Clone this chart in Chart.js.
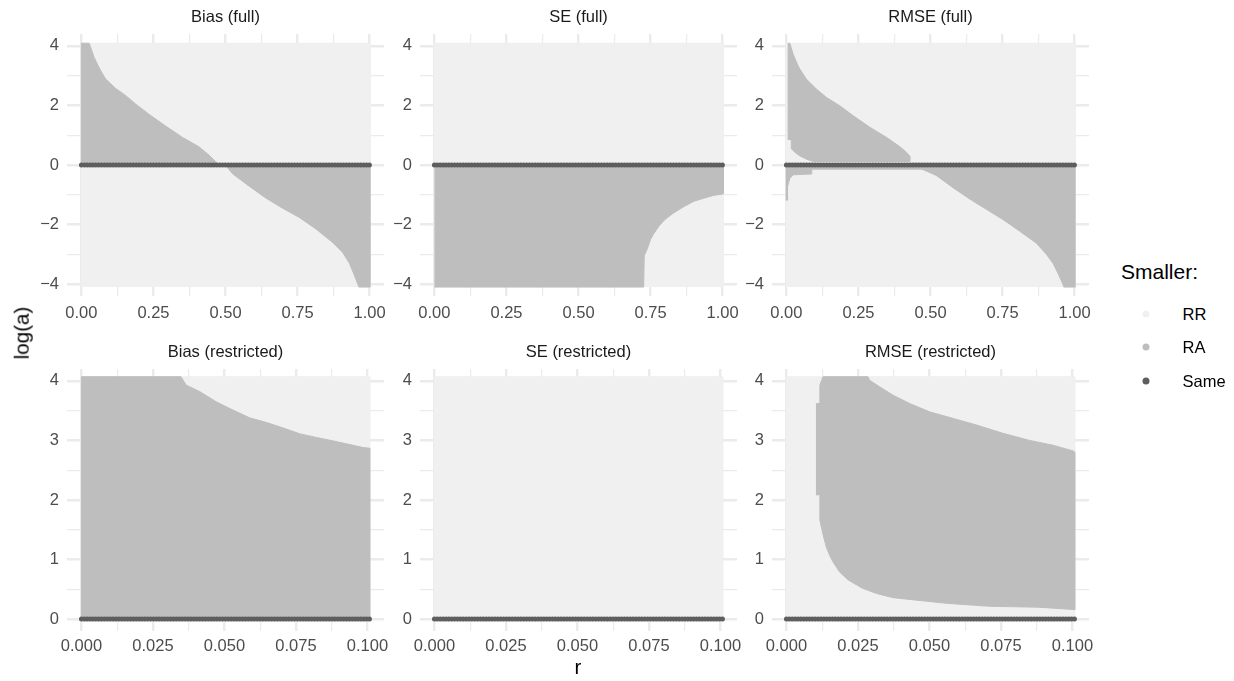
<!DOCTYPE html>
<html><head><meta charset="utf-8">
<script src="https://cdn.jsdelivr.net/npm/chart.js@4.4.1/dist/chart.umd.min.js"></script>
<style>
html,body{margin:0;padding:0;background:#fff;}
body{width:1234px;height:681px;overflow:hidden;position:relative;font-family:"Liberation Sans",Arial,Helvetica,sans-serif;}
canvas{position:absolute;}
.t{position:absolute;white-space:nowrap;line-height:1;}
.c{transform:translate(-50%,-50%);}
.l{transform:translate(0,-50%);}
.dot{position:absolute;width:7px;height:7px;border-radius:50%;transform:translate(-50%,-50%);}
</style></head><body>
<script>
// ---------------- data ----------------
const panelTitles = ['Bias (full)', 'SE (full)', 'RMSE (full)', 'Bias (restricted)', 'SE (restricted)', 'RMSE (restricted)'];
const xAxisTitle = 'r';
const yAxisTitle = 'log(a)';
const legendTitle = 'Smaller:';
const legendLabels = ['RR', 'RA', 'Same'];

// tick values / labels
const xTicksFull = [0, 0.25, 0.5, 0.75, 1];
const xTickLabelsFull = ['0.00', '0.25', '0.50', '0.75', '1.00'];
const xMinorFull = [0.125, 0.375, 0.625, 0.875];
const yTicksFull = [-4, -2, 0, 2, 4];
const yTickLabelsFull = ['\u22124', '\u22122', '0', '2', '4'];
const yMinorFull = [-3, -1, 1, 3];
const xTicksRestr = [0, 0.025, 0.05, 0.075, 0.1];
const xTickLabelsRestr = ['0.000', '0.025', '0.050', '0.075', '0.100'];
const xMinorRestr = [0.0125, 0.0375, 0.0625, 0.0875];
const yTicksRestr = [0, 1, 2, 3, 4];
const yTickLabelsRestr = ['0', '1', '2', '3', '4'];
const yMinorRestr = [0.5, 1.5, 2.5, 3.5];

// extent of the evaluated grid (RR wherever no RA region is listed)
const fullR = [0, 1.002];
const fullLogA = [-4.1, 4.09];
const restrR = [0, 0.1008];
const restrLogA = [-0.05, 4.07];
const sameLogA = 0; // "Same" along log(a) = 0

// RA regions (outlines)
const biasFullAboveR    = [0, 0, 0.027, 0.044, 0.055, 0.067, 0.084, 0.119, 0.154, 0.188, 0.235, 0.292, 0.350, 0.408, 0.443, 0.478];
const biasFullAboveLogA = [0, 4.09, 4.09, 3.62, 3.39, 3.17, 2.89, 2.57, 2.33, 2.05, 1.70, 1.31, 0.93, 0.61, 0.33, 0];
const biasFullBelowR    = [0.5, 0.524, 0.582, 0.640, 0.698, 0.756, 0.814, 0.872, 0.906, 0.930, 0.947, 0.958, 0.963, 1.002, 1.002];
const biasFullBelowLogA = [0, -0.29, -0.71, -1.11, -1.45, -1.76, -2.15, -2.60, -2.93, -3.30, -3.70, -3.98, -4.1, -4.1, 0];

const seFullBelowR    = [0, 1.002, 1.002, 0.97, 0.94, 0.90, 0.865, 0.83, 0.80, 0.78, 0.761, 0.75, 0.738, 0.728, 0.726, 0];
const seFullBelowLogA = [0, 0, -0.97, -1.02, -1.10, -1.22, -1.40, -1.61, -1.83, -2.04, -2.31, -2.50, -2.83, -3.05, -4.1, -4.1];

const rmseFullAboveR    = [0.006, 0.006, 0.012, 0.023, 0.035, 0.046, 0.069, 0.104, 0.139, 0.185, 0.231, 0.289, 0.347, 0.393, 0.416, 0.428, 0.428, 0.092, 0.069, 0.046, 0.029, 0.018, 0.017];
const rmseFullAboveLogA = [0.85, 4.09, 4.09, 3.73, 3.45, 3.23, 2.89, 2.55, 2.27, 1.99, 1.66, 1.27, 0.93, 0.62, 0.43, 0.30, 0.12, 0.12, 0.20, 0.31, 0.43, 0.54, 0.82];
const rmseFullBelowR    = [0, 0, 0.004, 0.004, 0.008, 0.012, 0.023, 0.087, 0.088, 0.470, 0.485, 0.520, 0.578, 0.636, 0.694, 0.751, 0.809, 0.867, 0.902, 0.925, 0.942, 0.957, 0.963, 1.002, 1.002];
const rmseFullBelowLogA = [0, -1.18, -1.18, -0.73, -0.58, -0.45, -0.33, -0.30, -0.14, -0.14, -0.20, -0.35, -0.76, -1.14, -1.49, -1.83, -2.22, -2.62, -3.00, -3.30, -3.63, -3.95, -4.1, -4.1, 0];

const biasRestrR    = [0, 0, 0.0348, 0.0366, 0.0414, 0.0471, 0.0530, 0.0588, 0.0648, 0.0705, 0.0765, 0.0822, 0.0882, 0.0939, 0.0986, 0.1008, 0.1008];
const biasRestrLogA = [0, 4.07, 4.07, 3.93, 3.82, 3.65, 3.51, 3.38, 3.30, 3.21, 3.11, 3.05, 2.99, 2.93, 2.88, 2.87, 0];

const rmseRestrR    = [0.0105, 0.0105, 0.0117, 0.0117, 0.0128, 0.0285, 0.0291, 0.0326, 0.0373, 0.0431, 0.0501, 0.0583, 0.0664, 0.0757, 0.0851, 0.0932, 0.1005, 0.1008, 0.1008, 0.088, 0.071, 0.056, 0.045, 0.0373, 0.0315, 0.0265, 0.0215, 0.0186, 0.0175, 0.0163, 0.0152, 0.0140, 0.0128, 0.0117, 0.0117];
const rmseRestrLogA = [2.08, 3.62, 3.62, 3.93, 4.07, 4.07, 4.01, 3.90, 3.76, 3.62, 3.48, 3.37, 3.26, 3.12, 3.00, 2.92, 2.82, 2.80, 0.16, 0.20, 0.215, 0.265, 0.32, 0.36, 0.43, 0.52, 0.66, 0.79, 0.87, 0.96, 1.06, 1.20, 1.42, 1.66, 2.08];

// ---------------- styling / layout ----------------
const COLORS = { RR: '#F0F0F0', RA: '#BEBEBE', Same: '#5E5E5E' };
const GRID = '#EBEBEB';
const FONT = '"Liberation Sans", Arial, Helvetica, sans-serif';
const colLeft = [67, 420, 772];
const rowTop = [34, 369];
const PW = 317, PH = 262, YW = 60, XH = 40, PADR = 24, PADT = 25;

const rows = [
  { xMin: -0.05, xMax: 1.05, yMin: -4.4, yMax: 4.4,
    xTicks: xTicksFull, xLabels: xTickLabelsFull, xMinor: xMinorFull,
    yTicks: yTicksFull, yLabels: yTickLabelsFull, yMinor: yMinorFull,
    extR: fullR, extL: fullLogA, xPad: 8 },
  { xMin: -0.00505, xMax: 0.1058, yMin: -0.2, yMax: 4.2,
    xTicks: xTicksRestr, xLabels: xTickLabelsRestr, xMinor: xMinorRestr,
    yTicks: yTicksRestr, yLabels: yTickLabelsRestr, yMinor: yMinorRestr,
    extR: restrR, extL: restrLogA, xPad: 6 }
];

const panels = [
  { title: panelTitles[0], row: 0, col: 0, ra: [[biasFullAboveR, biasFullAboveLogA], [biasFullBelowR, biasFullBelowLogA]] },
  { title: panelTitles[1], row: 0, col: 1, ra: [[seFullBelowR, seFullBelowLogA]] },
  { title: panelTitles[2], row: 0, col: 2, ra: [[rmseFullAboveR, rmseFullAboveLogA], [rmseFullBelowR, rmseFullBelowLogA]] },
  { title: panelTitles[3], row: 1, col: 0, ra: [[biasRestrR, biasRestrLogA]] },
  { title: panelTitles[4], row: 1, col: 1, ra: [] },
  { title: panelTitles[5], row: 1, col: 2, ra: [[rmseRestrR, rmseRestrLogA]] }
];

function outline(rs, ls) { return rs.map((r, i) => ({ x: r, y: ls[i] })); }
function addText(txt, x, y, cls, style) {
  const d = document.createElement('div');
  d.className = 't ' + cls;
  d.textContent = txt;
  d.style.left = x + 'px'; d.style.top = y + 'px';
  Object.assign(d.style, style || {});
  document.body.appendChild(d);
  return d;
}

panels.forEach((p) => {
  const R = rows[p.row];
  const cv = document.createElement('canvas');
  const w = YW + PW + PADR, h = PADT + PH + XH;
  cv.width = w; cv.height = h;
  cv.style.left = (colLeft[p.col] - YW) + 'px';
  cv.style.top = (rowTop[p.row] - PADT) + 'px';
  cv.style.width = w + 'px'; cv.style.height = h + 'px';
  document.body.appendChild(cv);

  const bg = outline([R.extR[0], R.extR[0], R.extR[1], R.extR[1]], [R.extL[0], R.extL[1], R.extL[1], R.extL[0]]);
  const datasets = [
    { data: bg, fill: 'shape', backgroundColor: COLORS.RR, borderColor: COLORS.RR, borderWidth: 1, order: 4 }
  ];
  p.ra.forEach(([rs, ls]) => {
    datasets.push({ data: outline(rs, ls), fill: 'shape', backgroundColor: COLORS.RA, borderColor: COLORS.RA, borderWidth: 1, order: 3 });
  });
  const sameData = [{ x: R.extR[0], y: sameLogA }, { x: R.extR[1], y: sameLogA }];
  // core of the "Same" band
  datasets.push({ data: sameData, fill: false, borderColor: COLORS.Same, borderWidth: 3, order: 2 });
  // dotted edge of the "Same" band (overlapping round dots)
  datasets.push({ data: sameData, fill: false, borderColor: COLORS.Same, borderWidth: 5,
                  borderCapStyle: 'round', borderDash: [0.01, 2.87], order: 1 });

  const xAll = R.xTicks.concat(R.xMinor).sort((a, b) => a - b);
  const yAll = R.yTicks.concat(R.yMinor).sort((a, b) => a - b);
  const lw = (major) => (c) => (c.tick && major.includes(c.tick.value)) ? 2.4 : 1.2;

  new Chart(cv.getContext('2d'), {
    type: 'line',
    data: { datasets },
    options: {
      responsive: false, maintainAspectRatio: false, animation: false, devicePixelRatio: 1,
      layout: { padding: { left: 0, right: PADR, top: PADT, bottom: 0 } },
      plugins: { legend: { display: false }, tooltip: { enabled: false }, title: { display: false } },
      elements: { point: { radius: 0, hoverRadius: 0 }, line: { tension: 0 } },
      events: [],
      scales: {
        x: {
          type: 'linear', min: R.xMin, max: R.xMax,
          afterFit: (s) => { s.height = XH; },
          afterBuildTicks: (s) => { s.ticks = xAll.map(v => ({ value: v })); },
          ticks: {
            autoSkip: false, maxRotation: 0, padding: R.xPad, color: '#4D4D4D',
            font: { family: FONT, size: 16.5 },
            callback: (v) => { const i = R.xTicks.indexOf(v); return i >= 0 ? R.xLabels[i] : ''; }
          },
          grid: { color: GRID, lineWidth: lw(R.xTicks), drawTicks: false },
          border: { display: false }
        },
        y: {
          type: 'linear', min: R.yMin, max: R.yMax,
          afterFit: (s) => { s.width = YW; },
          afterBuildTicks: (s) => { s.ticks = yAll.map(v => ({ value: v })); },
          ticks: {
            autoSkip: false, padding: 8, color: '#4D4D4D',
            font: { family: FONT, size: 16.5 },
            callback: (v) => { const i = R.yTicks.indexOf(v); return i >= 0 ? R.yLabels[i] : ''; }
          },
          grid: { color: GRID, lineWidth: lw(R.yTicks), drawTicks: false },
          border: { display: false }
        }
      }
    }
  });

  // strip title
  addText(p.title, colLeft[p.col] + PW / 2, rowTop[p.row] - 18.5, 'c', { fontSize: '16.5px', color: '#1A1A1A' });
});

// axis titles
addText(xAxisTitle, 578, 667, 'c', { fontSize: '20.6px', color: '#000' });
addText(yAxisTitle, 21.6, 333, 'c', { fontSize: '20.6px', color: '#000', transform: 'translate(-50%,-50%) rotate(-90deg)' });

// legend
addText(legendTitle, 1121, 271, 'l', { fontSize: '21px', color: '#000' });
const legendColors = [COLORS.RR, COLORS.RA, COLORS.Same];
const legendY = [314, 347.3, 380.6];
legendLabels.forEach((lab, i) => {
  const d = document.createElement('div');
  d.className = 'dot';
  d.style.left = '1145.7px'; d.style.top = legendY[i] + 'px';
  d.style.background = legendColors[i];
  document.body.appendChild(d);
  addText(lab, 1182.5, legendY[i], 'l', { fontSize: '16.5px', color: '#000' });
});
</script>
</body></html>
